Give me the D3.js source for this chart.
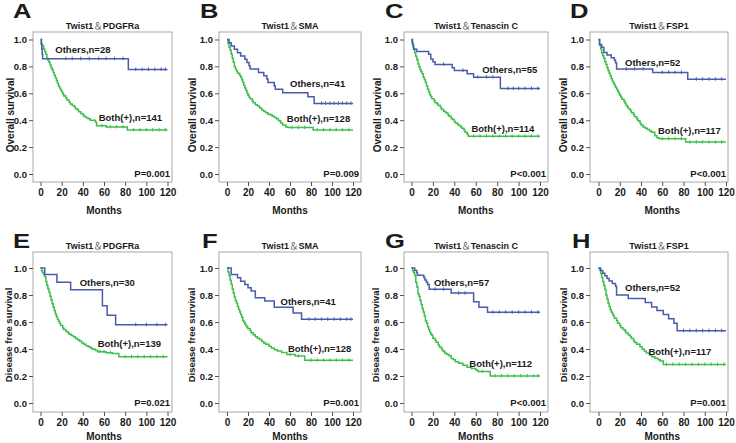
<!DOCTYPE html>
<html><head><meta charset="utf-8">
<script src="https://cdn.jsdelivr.net/npm/d3@7"></script>
<style>
body{margin:0;background:#fff}
svg{display:block}
text{font-family:"Liberation Sans",Arial,sans-serif;font-weight:bold;fill:#1a1a1a}
</style>
</head><body>
<svg id="c" width="736" height="443"></svg>
<script>
// ---------------- data ----------------
const panelLetters = ["A","B","C","D","E","F","G","H"];
const gene = "Twist1";
const markers = ["PDGFRa","SMA","Tenascin C","FSP1","PDGFRa","SMA","Tenascin C","FSP1"];
const yTitles = ["Overall survival","Disease free survival"];
const xTitle = "Months";
const othersN = [28,41,55,52,30,41,57,52];
const bothN = [141,128,114,117,139,128,112,117];
const pValues = ["P=0.001","P=0.009","P<0.001","P<0.001","P=0.021","P=0.001","P<0.001","P=0.001"];
const xTicks = [0,20,40,60,80,100,120];
const yTicks = [0,0.2,0.4,0.6,0.8,1.0];
const followUp = 120;

// Kaplan-Meier steps: [month, survival after the event]
const othersA = [[0.7,0.964],[1.2,0.929],[1.6,0.893],[2,0.857],[83,0.777]];
const bothA = [[1,0.965],[2,0.95],[3,0.93],[4,0.91],[5,0.89],[6,0.86],[7,0.845],[8,0.83],[9,0.81],[10,0.79],[11,0.775],[12,0.755],[13,0.735],[14,0.715],[15,0.695],[16,0.675],[17,0.655],[18,0.64],[19,0.625],[20,0.61],[21,0.595],[22,0.58],[24,0.565],[25,0.55],[27,0.535],[28,0.52],[30,0.51],[32,0.5],[33,0.485],[35,0.475],[36,0.462],[38,0.45],[40,0.44],[41,0.428],[43,0.418],[45,0.41],[47,0.4],[52,0.385],[53,0.358],[62,0.35],[82,0.328]];
const othersB = [[2,0.976],[4,0.951],[7,0.927],[10,0.902],[13,0.878],[17,0.853],[19,0.829],[21,0.804],[22,0.78],[30,0.755],[35,0.73],[38,0.706],[39,0.68],[45,0.655],[46,0.63],[53,0.605],[77,0.575],[83,0.525]];
const bothB = [[1,0.97],[2,0.945],[3,0.92],[4,0.89],[5,0.86],[6,0.83],[7,0.8],[8,0.78],[9,0.765],[10,0.75],[12,0.735],[13,0.72],[14,0.7],[15,0.68],[16,0.66],[17,0.64],[18,0.62],[19,0.6],[20,0.585],[21,0.57],[22,0.56],[24,0.545],[25,0.53],[27,0.515],[29,0.505],[31,0.49],[33,0.475],[35,0.465],[37,0.455],[39,0.445],[41,0.44],[43,0.43],[45,0.42],[47,0.41],[49,0.395],[51,0.38],[53,0.365],[56,0.35],[58,0.345],[82,0.328]];
const othersC = [[0.5,0.982],[1,0.964],[1.5,0.945],[2,0.927],[5,0.91],[16,0.89],[18,0.855],[20,0.835],[22,0.815],[38,0.79],[40,0.77],[52,0.745],[58,0.72],[83,0.635]];
const bothC = [[1,0.965],[2,0.93],[3,0.9],[4,0.875],[5,0.85],[6,0.82],[7,0.795],[8,0.775],[9,0.76],[10,0.745],[11,0.72],[12,0.7],[13,0.68],[14,0.655],[15,0.63],[16,0.61],[17,0.59],[18,0.575],[19,0.56],[21,0.545],[22,0.53],[24,0.52],[25,0.51],[27,0.495],[28,0.48],[30,0.465],[32,0.455],[34,0.44],[35,0.43],[37,0.415],[38,0.405],[40,0.39],[41,0.38],[43,0.37],[44,0.36],[46,0.35],[47,0.34],[49,0.325],[50,0.31],[52,0.295],[53,0.28]];
const othersD = [[1,0.962],[3,0.942],[5,0.904],[8,0.885],[12,0.865],[15,0.846],[16,0.827],[17,0.78],[51,0.755],[84,0.705]];
const bothD = [[1,0.96],[2,0.93],[3,0.9],[4,0.88],[5,0.86],[6,0.835],[7,0.815],[8,0.79],[9,0.77],[10,0.75],[11,0.73],[12,0.71],[13,0.69],[14,0.675],[15,0.66],[16,0.645],[17,0.63],[18,0.615],[19,0.6],[20,0.585],[21,0.57],[22,0.555],[24,0.54],[25,0.525],[26,0.51],[27,0.5],[28,0.485],[30,0.47],[31,0.455],[33,0.44],[34,0.425],[36,0.41],[37,0.395],[39,0.38],[40,0.365],[42,0.35],[44,0.34],[46,0.33],[48,0.32],[50,0.31],[53,0.285],[55,0.27],[57,0.262],[82,0.237]];
const othersE = [[4,0.951],[15.5,0.895],[28.5,0.838],[58.5,0.72],[63,0.65],[71,0.58]];
const bothE = [[1,0.98],[2,0.965],[3,0.95],[4,0.935],[5,0.9],[6,0.87],[7,0.845],[8,0.82],[9,0.79],[10,0.765],[11,0.735],[12,0.71],[13,0.685],[14,0.66],[15,0.638],[16,0.62],[17,0.605],[18,0.59],[19,0.575],[21,0.555],[22,0.545],[24,0.53],[26,0.52],[27,0.51],[29,0.5],[31,0.49],[33,0.478],[35,0.468],[37,0.458],[39,0.445],[41,0.435],[43,0.425],[45,0.417],[47,0.408],[49,0.398],[52,0.388],[54,0.38],[62,0.373],[68,0.366],[74,0.342]];
const othersF = [[4,0.951],[10,0.927],[13,0.902],[17,0.878],[20,0.853],[23,0.829],[27,0.78],[36,0.756],[45,0.71],[63,0.667],[71,0.62]];
const bothF = [[1,0.97],[2,0.944],[3,0.91],[4,0.88],[5,0.845],[6,0.815],[7,0.785],[8,0.76],[9,0.74],[10,0.715],[11,0.695],[12,0.675],[13,0.655],[14,0.635],[15,0.612],[16,0.6],[17,0.585],[18,0.572],[19,0.56],[20,0.55],[22,0.535],[23,0.52],[25,0.505],[27,0.49],[29,0.48],[31,0.47],[33,0.455],[35,0.445],[37,0.435],[40,0.42],[42,0.408],[45,0.395],[48,0.385],[52,0.375],[57,0.36],[65,0.348],[74,0.316]];
const othersG = [[3,0.982],[5,0.965],[5.5,0.947],[11.5,0.93],[12.5,0.912],[14,0.895],[15,0.877],[16.5,0.842],[37,0.814],[58,0.75],[63,0.71],[71,0.672]];
const bothG = [[1,0.98],[2,0.965],[3,0.944],[4,0.895],[5,0.86],[6,0.81],[7,0.79],[8,0.76],[9,0.73],[10,0.7],[11,0.675],[12,0.645],[13,0.61],[14,0.59],[15,0.565],[16,0.545],[17,0.525],[18,0.51],[19,0.5],[20,0.48],[22,0.465],[23,0.45],[25,0.43],[26,0.415],[28,0.4],[29,0.385],[31,0.368],[33,0.36],[35,0.35],[37,0.33],[39,0.32],[41,0.305],[44,0.295],[48,0.28],[52,0.265],[56,0.255],[60,0.245],[62,0.233],[73.5,0.2]];
const othersH = [[2,0.981],[4,0.962],[6,0.942],[8,0.923],[10,0.904],[13,0.885],[16,0.865],[17,0.8],[28,0.775],[44,0.745],[50,0.712],[55,0.685],[61,0.655],[66,0.625],[71,0.59],[74,0.535]];
const bothH = [[1,0.985],[2,0.96],[3,0.93],[4,0.9],[5,0.87],[6,0.84],[7,0.8],[8,0.77],[9,0.74],[10,0.715],[11,0.69],[12,0.674],[13,0.66],[14,0.645],[15,0.628],[17,0.61],[18,0.59],[20,0.575],[21,0.557],[23,0.545],[25,0.532],[26,0.518],[28,0.503],[30,0.49],[31,0.478],[33,0.462],[34,0.449],[36,0.435],[39,0.417],[41,0.4],[43,0.385],[45,0.37],[48,0.356],[50,0.343],[53,0.331],[56,0.32],[58,0.311],[61,0.286]];

// censored observations (months)
const censorOthers = [
  [24,30,38,46,55,62,70,78,90,96,102,108,114,118],
  [90,94,98,102,106,110,114,118],
  [30,48,62,70,76,90,95,100,106,112,118],
  [26,34,42,60,66,72,78,92,98,104,110,116],
  [90,100,110,118],
  [78,84,90,96,102,108,114,118],
  [22,30,44,50,76,82,88,94,100,106,112,118],
  [80,86,92,98,104,110,116]
];
const censorBoth = [
  [58,66,72,78,88,94,100,106,112,118],
  [62,68,74,86,92,98,104,110,116],
  [58,64,70,76,82,88,94,100,106,112,118],
  [60,66,72,78,86,92,98,104,110,116],
  [56,60,66,80,86,92,98,104,110,116],
  [60,68,80,86,92,98,104,110,116],
  [66,78,84,90,96,102,108,114,118],
  [64,70,76,82,88,94,100,106,112,118]
];

const othersSeries = [othersA,othersB,othersC,othersD,othersE,othersF,othersG,othersH];
const bothSeries = [bothA,bothB,bothC,bothD,bothE,bothF,bothG,bothH];

// ---------------- layout ----------------
const cols = [
  {l:33, r:172, x0:40.5, x1:167.5},
  {l:219, r:361, x0:227, x1:353},
  {l:404, r:548, x0:411.5, x1:540},
  {l:590, r:728, x0:598.5, x1:726}
];
const rows = [
  {t:32, b:182, y1:39.5, y0:174, titleY:29, letterY:18, monthsY:214, ylabCY:115, ylabSize:10, ylabX:[10,192,377,563], letterX:[13,200,385,570]},
  {t:252, b:412, y1:268, y0:403, titleY:249, letterY:248, monthsY:439.5, ylabCY:335, ylabSize:9.5, ylabX:[8,191,375,563], letterX:[13,202,385,572]}
];
// label anchor positions in data units [month, survival]
const labelOthersPos = [[14,0.925],[60,0.674],[66,0.78],[25,0.83],[37,0.889],[51,0.75],[21,0.896],[25,0.852]];
const labelBothPos = [[55,0.418],[57,0.415],[56,0.34],[56,0.326],[54,0.444],[58,0.407],[54,0.289],[47,0.378]];

const blue = "#4a5bad";
const green = "#3dbf4b";

const svg = d3.select("#c");

function survAt(steps, t){
  let s = 1;
  for (const [m,v] of steps){ if (m <= t) s = v; else break; }
  return s;
}

for (let i = 0; i < 8; i++){
  const col = cols[i % 4], row = rows[Math.floor(i/4)];
  const ci = i % 4;
  const x = d3.scaleLinear().domain([0,120]).range([col.x0, col.x1]);
  const y = d3.scaleLinear().domain([0,1]).range([row.y0, row.y1]);
  const g = svg.append("g");

  // panel letter
  g.append("text")
    .attr("transform", `translate(${row.letterX[ci]},${row.letterY}) scale(1.28,1)`)
    .attr("font-size", 20).text(panelLetters[i]);

  // title
  const tt = g.append("text").attr("x", (col.l+col.r)/2).attr("y", row.titleY)
    .attr("text-anchor","middle").attr("font-size", 9);
  tt.append("tspan").text(gene);
  tt.append("tspan").attr("font-family","'Noto Sans CJK SC'").attr("font-weight","normal")
    .style("fill","#666").attr("font-size",9.5).text("＆");
  tt.append("tspan").text(markers[i]);

  // frame
  g.append("rect").attr("x", col.l).attr("y", row.t)
    .attr("width", col.r-col.l).attr("height", row.b-row.t)
    .attr("fill","none").attr("stroke","#a8a8a8").attr("stroke-width",1);

  // axes
  const ya = g.append("g").attr("transform",`translate(${col.l},0)`)
    .call(d3.axisLeft(y).tickValues(yTicks).tickFormat(d3.format(".1f")).tickSize(4).tickPadding(2));
  const xa = g.append("g").attr("transform",`translate(0,${row.b})`)
    .call(d3.axisBottom(x).tickValues(xTicks).tickSize(4).tickPadding(3));
  [ya,xa].forEach(a=>{
    a.select(".domain").remove();
    a.selectAll(".tick line").attr("stroke","#555");
    a.selectAll(".tick text").attr("font-family",null).attr("font-size",null)
      .style("font-size", "9.5px").style("font-weight","bold").style("fill","#1a1a1a");
  });
  xa.selectAll(".tick text").style("font-size","10px");

  // axis titles
  g.append("text").attr("x",(col.x0+col.x1)/2).attr("y", row.monthsY)
    .attr("text-anchor","middle").attr("font-size",10).text(xTitle);
  g.append("text")
    .attr("transform",`translate(${row.ylabX[ci]},${row.ylabCY}) rotate(-90)`)
    .attr("text-anchor","middle").attr("dominant-baseline","central")
    .attr("font-size",row.ylabSize).text(yTitles[Math.floor(i/4)]);

  // curves
  const line = d3.line().x(d=>x(d[0])).y(d=>y(d[1])).curve(d3.curveStepAfter);
  const drawSeries = (steps, censors, color) => {
    const pts = [[0,1], ...steps, [followUp, steps[steps.length-1][1]]];
    g.append("path").attr("d", line(pts)).attr("fill","none")
      .attr("stroke", color).attr("stroke-width",1.5);
    g.selectAll(null).data(censors).enter().append("line")
      .attr("x1", d=>x(d)).attr("x2", d=>x(d))
      .attr("y1", d=>y(survAt(steps,d))-2).attr("y2", d=>y(survAt(steps,d))+1.5)
      .attr("stroke", color).attr("stroke-width",1);
  };
  drawSeries(bothSeries[i], censorBoth[i], green);
  drawSeries(othersSeries[i], censorOthers[i], blue);

  // labels
  g.append("text").attr("x", x(labelOthersPos[i][0])).attr("y", y(labelOthersPos[i][1]))
    .attr("dominant-baseline","central").attr("font-size",9.5).text(`Others,n=${othersN[i]}`);
  g.append("text").attr("x", x(labelBothPos[i][0])).attr("y", y(labelBothPos[i][1]))
    .attr("dominant-baseline","central").attr("font-size",9.5).text(`Both(+),n=${bothN[i]}`);
  g.append("text").attr("x", col.r - 2).attr("y", row.y0 + 3)
    .attr("text-anchor","end").attr("font-size",9.5).text(pValues[i]);
}
</script>
</body></html>
